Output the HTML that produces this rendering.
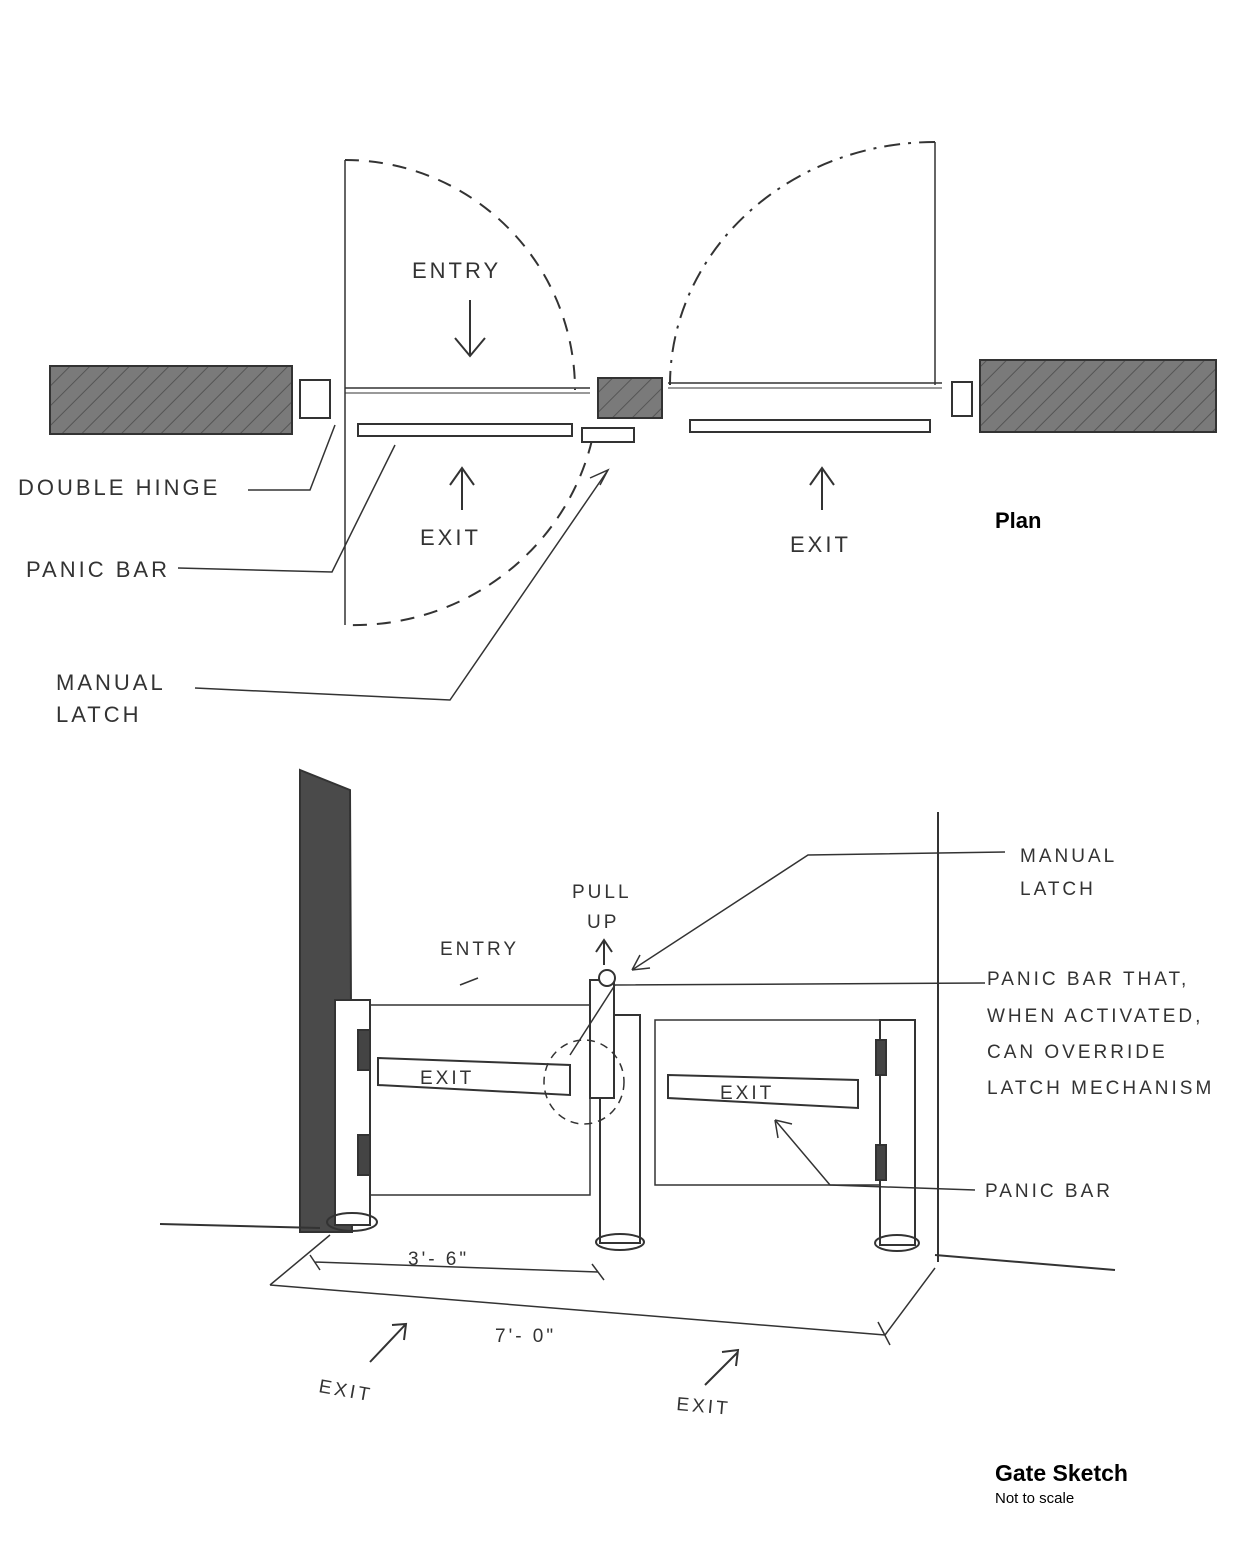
<!DOCTYPE html>
<html><head><meta charset="utf-8"><style>
html,body{margin:0;padding:0;background:#fff;}
svg{display:block}
.h{font-family:"Liberation Sans",sans-serif;font-size:22px;fill:#333;letter-spacing:3px;font-weight:normal}
.s{font-family:"Liberation Sans",sans-serif;font-size:19px;fill:#333;letter-spacing:3px}
</style></head><body>
<svg width="1241" height="1543" viewBox="0 0 1241 1543" xmlns="http://www.w3.org/2000/svg">
<defs>
<pattern id="hat" width="14" height="14" patternUnits="userSpaceOnUse" patternTransform="rotate(45)">
<rect width="14" height="14" fill="#7a7a7a"/><line x1="0" y1="0" x2="0" y2="14" stroke="#555" stroke-width="2"/>
</pattern>
</defs>
<g fill="none" stroke="#333" stroke-width="2">
<!-- PLAN -->
<rect x="50" y="366" width="242" height="68" fill="url(#hat)" stroke="#333"/>
<rect x="300" y="380" width="30" height="38" fill="#fff"/>
<rect x="598" y="378" width="64" height="40" fill="url(#hat)"/>
<rect x="980" y="360" width="236" height="72" fill="url(#hat)"/>
<rect x="952" y="382" width="20" height="34" fill="#fff"/>
<line x1="345" y1="388" x2="590" y2="388" stroke-width="1.5"/>
<line x1="345" y1="393" x2="590" y2="393" stroke-width="1"/>
<line x1="345" y1="160" x2="345" y2="625" stroke-width="1.5"/>
<path d="M345 160 A230 230 0 0 1 575 390" stroke-dasharray="14 10"/>
<path d="M592 440 A245 240 0 0 1 345 625" stroke-dasharray="14 10"/>
<rect x="358" y="424" width="214" height="12"/>
<rect x="582" y="428" width="52" height="14" fill="#fff"/>
<line x1="668" y1="383" x2="942" y2="383" stroke-width="1.5"/>
<line x1="668" y1="388" x2="942" y2="388" stroke-width="1"/>
<line x1="935" y1="142" x2="935" y2="385" stroke-width="1.5"/>
<path d="M935 142 A265 243 0 0 0 670 385" stroke-dasharray="16 8 3 8"/>
<rect x="690" y="420" width="240" height="12"/>
<!-- arrows -->
<path d="M470 300 L470 355 M455 338 L470 356 L485 338"/>
<path d="M462 510 L462 470 M450 485 L462 468 L474 485"/>
<path d="M822 510 L822 470 M810 485 L822 468 L834 485"/>
<!-- leaders -->
<path d="M248 490 L310 490 L335 425" stroke-width="1.5"/>
<path d="M178 568 L332 572 L395 445" stroke-width="1.5"/>
<path d="M195 688 L450 700 L608 470" stroke-width="1.5"/>
<path d="M600 485 L608 470 L590 478" stroke-width="1.5"/>

<!-- PERSPECTIVE -->
<polygon points="300,770 350,790 352,1232 300,1232" fill="#4a4a4a"/>
<line x1="938" y1="812" x2="938" y2="1262"/>
<path d="M160 1224 L320 1228 M935 1255 L1115 1270"/>
<rect x="370" y="1005" width="220" height="190" stroke-width="1.5"/>
<rect x="655" y="1020" width="225" height="165" stroke-width="1.5"/>
<rect x="335" y="1000" width="35" height="225" fill="#fff"/>
<ellipse cx="352" cy="1222" rx="25" ry="9"/>
<rect x="600" y="1015" width="40" height="228" fill="#fff"/>
<ellipse cx="620" cy="1242" rx="24" ry="8"/>
<rect x="880" y="1020" width="35" height="225" fill="#fff"/>
<ellipse cx="897" cy="1243" rx="22" ry="8"/>
<rect x="358" y="1030" width="12" height="40" fill="#444"/>
<rect x="358" y="1135" width="12" height="40" fill="#444"/>
<rect x="876" y="1040" width="10" height="35" fill="#444"/>
<rect x="876" y="1145" width="10" height="35" fill="#444"/>
<polygon points="378,1058 570,1065 570,1095 378,1085" fill="#fff"/>
<polygon points="668,1075 858,1080 858,1108 668,1098" fill="#fff"/>
<rect x="590" y="980" width="24" height="118" fill="#fff"/>
<circle cx="607" cy="978" r="8" fill="#fff"/>
<ellipse cx="584" cy="1082" rx="40" ry="42" stroke-dasharray="8 6" stroke-width="1.5"/>
<path d="M604 965 L604 940 M596 952 L604 940 L612 952"/>
<path d="M632 970 L808 855 L1005 852 M632 970 L650 968 M632 970 L640 955" stroke-width="1.5"/>
<path d="M570 1055 L615 985 L985 983" stroke-width="1.5"/>
<path d="M775 1120 L830 1185 L975 1190 M775 1120 L778 1138 M775 1120 L792 1124" stroke-width="1.5"/>
<path d="M460 985 L478 978" stroke-width="1.5"/>
<!-- dimensions -->
<path d="M315 1262 L598 1272 M310 1255 L320 1270 M592 1264 L604 1280" stroke-width="1.5"/>
<path d="M270 1285 L885 1335 M270 1285 L330 1235 M885 1335 L935 1268 M878 1322 L890 1345" stroke-width="1.5"/>
<path d="M370 1362 L405 1325 M392 1325 L406 1324 L404 1340"/>
<path d="M705 1385 L738 1352 M722 1352 L738 1350 L736 1366"/>
</g>
<g>
<text class="h" x="412" y="278">ENTRY</text>
<text class="h" x="420" y="545">EXIT</text>
<text class="h" x="790" y="552">EXIT</text>
<text class="h" x="18" y="495">DOUBLE HINGE</text>
<text class="h" x="26" y="577">PANIC BAR</text>
<text class="h" x="56" y="690">MANUAL</text>
<text class="h" x="56" y="722">LATCH</text>
<text x="995" y="528" font-family="Liberation Sans,sans-serif" font-weight="bold" font-size="22" fill="#000">Plan</text>

<text class="s" x="572" y="898">PULL</text>
<text class="s" x="587" y="928">UP</text>
<text class="s" x="440" y="955" font-size="17">ENTRY</text>
<text class="s" x="1020" y="862">MANUAL</text>
<text class="s" x="1020" y="895">LATCH</text>
<text class="s" x="987" y="985">PANIC BAR THAT,</text>
<text class="s" x="987" y="1022">WHEN ACTIVATED,</text>
<text class="s" x="987" y="1058">CAN OVERRIDE</text>
<text class="s" x="987" y="1094">LATCH MECHANISM</text>
<text class="s" x="985" y="1197">PANIC BAR</text>
<text class="s" x="420" y="1084" font-size="15">EXIT</text>
<text class="s" x="720" y="1099" font-size="15">EXIT</text>
<text class="s" x="408" y="1265">3'- 6"</text>
<text class="s" x="495" y="1342">7'- 0"</text>
<text class="s" x="318" y="1392" transform="rotate(10 318 1392)">EXIT</text>
<text class="s" x="676" y="1410" transform="rotate(5 676 1410)">EXIT</text>
<text x="995" y="1481" font-family="Liberation Sans,sans-serif" font-weight="bold" font-size="23" fill="#000">Gate Sketch</text>
<text x="995" y="1503" font-family="Liberation Sans,sans-serif" font-size="15" fill="#000">Not to scale</text>
</g>
</svg>
</body></html>
